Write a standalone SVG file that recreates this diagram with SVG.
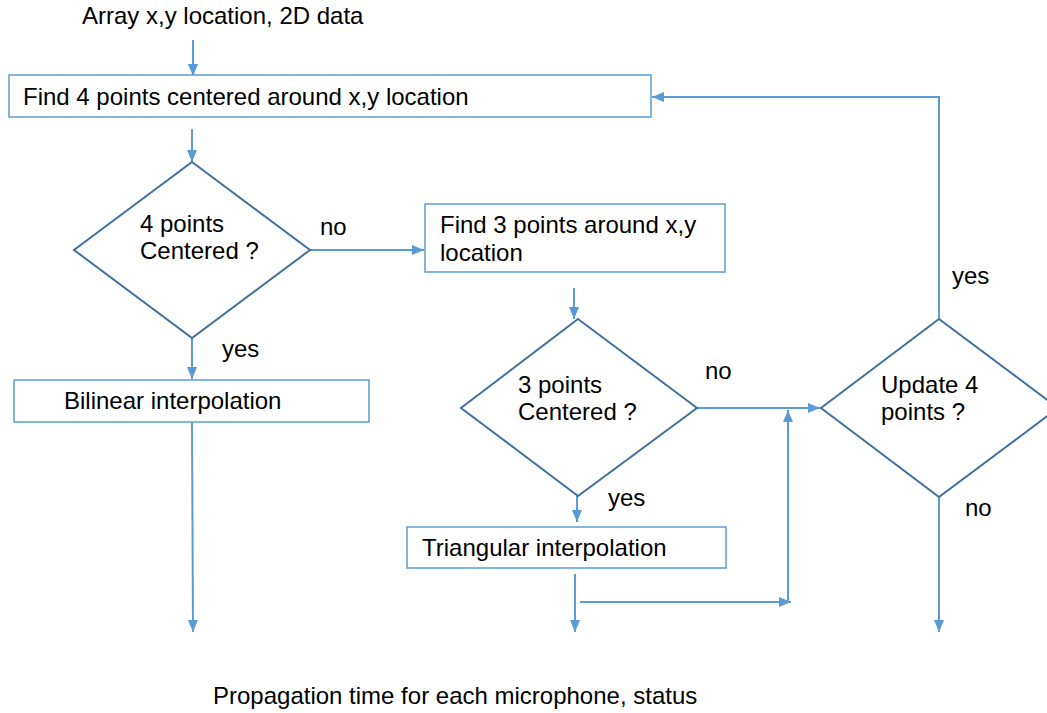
<svg xmlns="http://www.w3.org/2000/svg" width="1047" height="713" viewBox="0 0 1047 713">
<defs>
<marker id="ah" viewBox="0 0 12 10" refX="12" refY="5" markerWidth="12" markerHeight="10" markerUnits="userSpaceOnUse" orient="auto">
<path d="M0,0 L12,5 L0,10 Z" fill="#5b9bd5"/>
</marker>
<style>
text{font-family:"Liberation Sans",Arial,sans-serif;font-size:24px;fill:#000}
.box{fill:#fff;stroke:#5b9bd5;stroke-width:1.5}
.dia{fill:#fff;stroke:#41719c;stroke-width:2}
.c{fill:none;stroke:#5b9bd5;stroke-width:2}
.a{marker-end:url(#ah)}
</style>
</defs>
<text x="82" y="24">Array x,y location, 2D data</text>
<text x="213" y="704">Propagation time for each microphone, status</text>
<g id="connectors">
<line class="c a" x1="193" y1="40" x2="193" y2="76"/>
<line class="c a" x1="192" y1="129" x2="192" y2="162"/>
<line class="c a" x1="310" y1="250" x2="424" y2="250"/>
<line class="c a" x1="192" y1="338" x2="192" y2="379"/>
<line class="c a" x1="192" y1="423" x2="193" y2="632"/>
<line class="c a" x1="574" y1="288" x2="574" y2="319"/>
<line class="c a" x1="697" y1="408" x2="820" y2="408"/>
<line class="c a" x1="577" y1="496" x2="577" y2="522"/>
<line class="c a" x1="575" y1="574" x2="575" y2="632"/>
<line class="c a" x1="580" y1="602" x2="791" y2="602"/>
<line class="c a" x1="788" y1="602" x2="788" y2="410"/>
<polyline class="c a" points="939,320 939,97 652,97"/>
<line class="c a" x1="939" y1="497" x2="939" y2="632"/>
</g>
<g id="lbl-no1"><text x="320" y="235">no</text></g>
<g id="lbl-yes1"><text x="222" y="357">yes</text></g>
<g id="lbl-no2"><text x="705" y="379">no</text></g>
<g id="lbl-yes2"><text x="608" y="506">yes</text></g>
<g id="lbl-yes3"><text x="952" y="284">yes</text></g>
<g id="lbl-no3"><text x="965" y="516">no</text></g>
<g id="find4">
<rect class="box" x="9" y="75" width="642" height="42"/>
<text x="23" y="105">Find 4 points centered around x,y location</text>
</g>
<g id="centered4">
<polygon class="dia" points="192,162 310,250 192,338 74,250"/>
<text x="140" y="232">4 points</text>
<text x="140" y="259">Centered ?</text>
</g>
<g id="find3">
<rect class="box" x="425" y="204" width="300" height="68"/>
<text x="440" y="233">Find 3 points around x,y</text>
<text x="440" y="261">location</text>
</g>
<g id="centered3">
<polygon class="dia" points="578,319 697,408 578,496 461,408"/>
<text x="518" y="393">3 points</text>
<text x="518" y="420">Centered ?</text>
</g>
<g id="update4">
<polygon class="dia" points="939,319 1058,408 939,497 821,408"/>
<text x="881" y="393">Update 4</text>
<text x="881" y="420">points ?</text>
</g>
<g id="bilinear">
<rect class="box" x="14" y="380" width="355" height="42"/>
<text x="64" y="409">Bilinear interpolation</text>
</g>
<g id="triangular">
<rect class="box" x="407" y="527" width="319" height="41"/>
<text x="422" y="556">Triangular interpolation</text>
</g>
</svg>
